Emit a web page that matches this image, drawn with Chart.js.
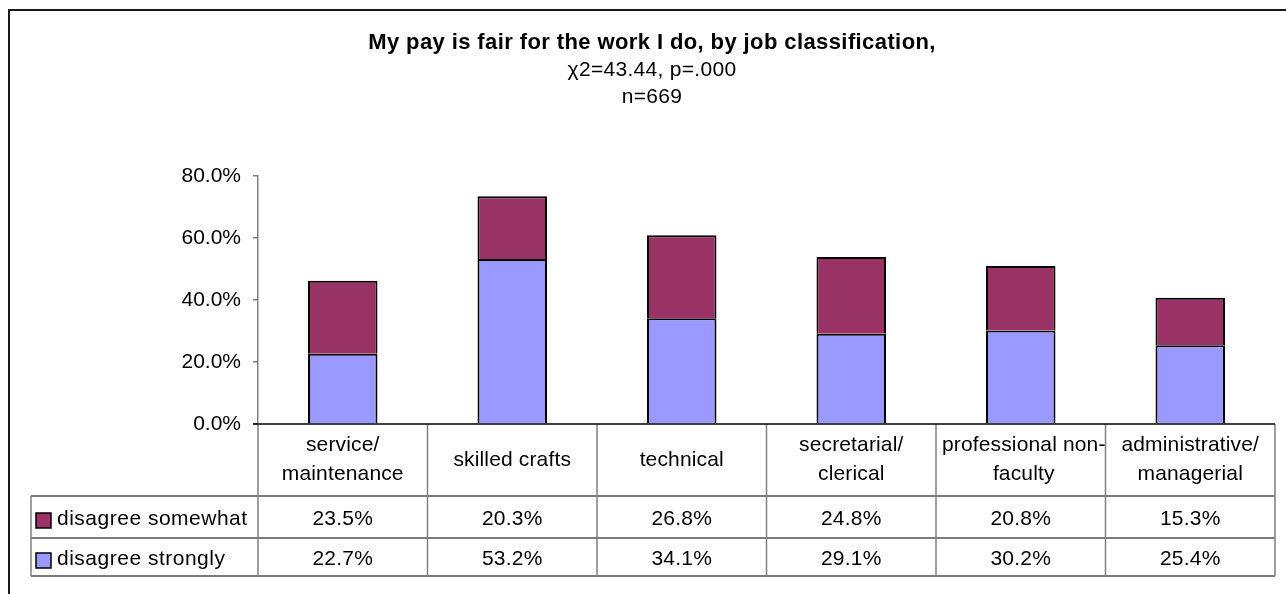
<!DOCTYPE html>
<html>
<head>
<meta charset="utf-8">
<script src="https://cdn.jsdelivr.net/npm/chart.js@4.4.1/dist/chart.umd.min.js"></script>
<style>
  html, body { margin: 0; padding: 0; background: #ffffff; }
  #wrap { width: 1286px; height: 594px; }
</style>
</head>
<body>
<div id="wrap"><canvas id="chart" width="1286" height="594"></canvas></div>
<script>
// Job classifications (category labels are split onto lines as drawn in the table header)
const categories = [
  ["service/", "maintenance"],
  ["skilled crafts"],
  ["technical"],
  ["secretarial/", "clerical"],
  ["professional non-", "faculty"],
  ["administrative/", "managerial"]
];

// Percent of respondents per classification
const disagreeStrongly = [22.7, 53.2, 34.1, 29.1, 30.2, 25.4];
const disagreeSomewhat = [23.5, 20.3, 26.8, 24.8, 20.8, 15.3];

const seriesNames = { somewhat: "disagree somewhat", strongly: "disagree strongly" };
const seriesColors = { somewhat: "#993366", strongly: "#9999FF" };

// Value axis ticks (percent)
const yTicks = [0, 20, 40, 60, 80];

const titleLines = [
  "My pay is fair for the work I do, by job classification,",
  "\u03C72=43.44, p=.000",
  "n=669"
];

const FONT = "'Liberation Sans', Arial, sans-serif";
const TEXT_SIZE = 21;

// Draws the outer frame and the heading lines
const framePlugin = {
  id: 'frameAndTitle',
  afterDraw(chart) {
    const ctx = chart.ctx;
    ctx.save();
    ctx.strokeStyle = '#1a1a1a';
    ctx.lineWidth = 2;
    ctx.beginPath();
    ctx.moveTo(9, 594);
    ctx.lineTo(9, 10);
    ctx.lineTo(1286, 10);
    ctx.stroke();

    const cx = 652;
    ctx.fillStyle = '#000';
    ctx.textAlign = 'center';
    ctx.textBaseline = 'alphabetic';
    ctx.letterSpacing = '0.4px';
    ctx.font = "bold 22px " + FONT;
    ctx.fillText(titleLines[0], cx, 49);
    ctx.letterSpacing = '0.3px';
    ctx.font = TEXT_SIZE + "px " + FONT;
    ctx.fillText(titleLines[1], cx, 76);
    ctx.fillText(titleLines[2], cx, 103);
    ctx.restore();
  }
};

// Data table under the plot: category header row plus one row per series
const tablePlugin = {
  id: 'dataTable',
  afterDraw(chart) {
    const ctx = chart.ctx;
    const xs = chart.scales.x;
    const area = chart.chartArea;
    const n = categories.length;
    const step = xs.getPixelForValue(1) - xs.getPixelForValue(0);
    const bounds = [];
    for (let i = 0; i <= n; i++) bounds.push(xs.getPixelForValue(0) - step / 2 + i * step);

    const top = area.bottom;              // category axis
    const headerBottom = top + 72;
    const row1Bottom = headerBottom + 42;
    const row2Bottom = row1Bottom + 38;
    const tableLeft = 31;
    const right = bounds[n];

    ctx.save();
    // horizontal rules
    ctx.lineWidth = 1.5;
    ctx.strokeStyle = '#505050';
    [headerBottom, row1Bottom, row2Bottom].forEach(y => {
      ctx.beginPath();
      ctx.moveTo(tableLeft, y);
      ctx.lineTo(right, y);
      ctx.stroke();
    });
    // vertical rules
    ctx.strokeStyle = '#808080';
    bounds.forEach(x => {
      ctx.beginPath();
      ctx.moveTo(x, top);
      ctx.lineTo(x, row2Bottom);
      ctx.stroke();
    });
    ctx.beginPath();
    ctx.moveTo(tableLeft, headerBottom);
    ctx.lineTo(tableLeft, row2Bottom);
    ctx.stroke();
    // category axis line
    ctx.strokeStyle = '#000';
    ctx.lineWidth = 1.5;
    ctx.beginPath();
    ctx.moveTo(area.left - 5, top);
    ctx.lineTo(right, top);
    ctx.stroke();

    // header labels; a label wider than its cell is nudged off the left rule
    ctx.fillStyle = '#000';
    ctx.font = TEXT_SIZE + "px " + FONT;
    ctx.letterSpacing = '0.15px';
    ctx.textAlign = 'center';
    ctx.textBaseline = 'alphabetic';
    const capOff = 0.358 * TEXT_SIZE;
    categories.forEach((lines, i) => {
      const cx = xs.getPixelForValue(i);
      const wide = Math.max(...lines.map(l => ctx.measureText(l).width)) > step - 8;
      const x = wide ? cx + 3 : cx;
      if (lines.length === 1) {
        ctx.fillText(lines[0], x, top + 34 + capOff);
      } else {
        ctx.fillText(lines[0], x, top + 19.5 + capOff);
        ctx.fillText(lines[1], x, top + 48.5 + capOff);
      }
    });

    // series rows
    const rows = [
      { name: seriesNames.somewhat, color: seriesColors.somewhat, values: disagreeSomewhat, mid: (headerBottom + row1Bottom) / 2 },
      { name: seriesNames.strongly, color: seriesColors.strongly, values: disagreeStrongly, mid: (row1Bottom + row2Bottom) / 2 }
    ];
    rows.forEach(r => {
      // legend key
      ctx.fillStyle = r.color;
      ctx.fillRect(36, r.mid - 4, 15, 15);
      ctx.strokeStyle = '#000';
      ctx.lineWidth = 1.5;
      ctx.strokeRect(36, r.mid - 4, 15, 15);
      ctx.fillStyle = '#000';
      ctx.textAlign = 'left';
      ctx.letterSpacing = '0.5px';
      ctx.fillText(r.name, 57, r.mid + capOff);
      ctx.textAlign = 'center';
      ctx.letterSpacing = '0.2px';
      r.values.forEach((v, i) => {
        ctx.fillText(v.toFixed(1) + '%', xs.getPixelForValue(i), r.mid + capOff);
      });
    });
    ctx.restore();
  }
};

new Chart(document.getElementById('chart'), {
  type: 'bar',
  data: {
    labels: categories.map(c => c.join(' ')),
    datasets: [
      {
        label: seriesNames.strongly,
        data: disagreeStrongly,
        backgroundColor: seriesColors.strongly,
        borderColor: '#000',
        borderWidth: 2
      },
      {
        label: seriesNames.somewhat,
        data: disagreeSomewhat,
        backgroundColor: seriesColors.somewhat,
        borderColor: '#000',
        borderWidth: 2
      }
    ]
  },
  options: {
    responsive: false,
    animation: false,
    devicePixelRatio: 1,
    layout: { padding: { left: 0, right: 11, top: 176, bottom: 170 } },
    datasets: { bar: { barPercentage: 0.41, categoryPercentage: 1 } },
    plugins: {
      legend: { display: false },
      title: { display: false },
      tooltip: { enabled: false }
    },
    scales: {
      x: {
        stacked: true,
        display: false
      },
      y: {
        stacked: true,
        min: 0,
        max: 80,
        afterFit(scale) { scale.width = 258; },
        afterBuildTicks(scale) { scale.ticks = yTicks.map(v => ({ value: v })); },
        grid: {
          drawOnChartArea: false,
          drawTicks: true,
          tickLength: 5,
          color: '#808080',
          lineWidth: 1.5
        },
        border: { display: true, color: '#808080', width: 1.5 },
        ticks: {
          padding: 12,
          color: '#000',
          font: { family: FONT, size: TEXT_SIZE },
          callback: v => v.toFixed(1) + '%'
        }
      }
    }
  },
  plugins: [framePlugin, tablePlugin]
});
</script>
</body>
</html>
